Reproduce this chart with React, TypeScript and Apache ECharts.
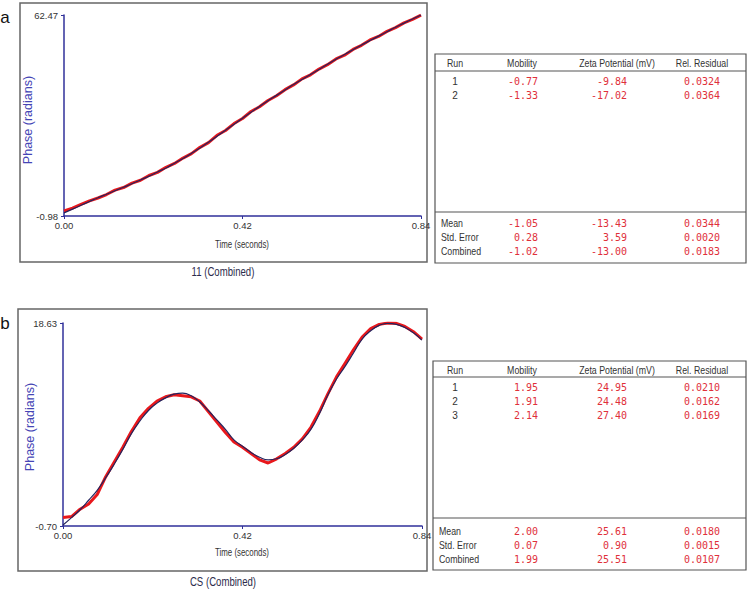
import React, { useEffect, useRef } from "react";
import * as echarts from "echarts";

// ---------- data ----------
const time = [0, 0.02, 0.04, 0.06, 0.08, 0.1, 0.12, 0.14, 0.16, 0.18, 0.2, 0.22, 0.24, 0.26, 0.28, 0.3, 0.32, 0.34, 0.36, 0.38, 0.4, 0.42, 0.44, 0.46, 0.48, 0.5, 0.52, 0.54, 0.56, 0.58, 0.6, 0.62, 0.64, 0.66, 0.68, 0.7, 0.72, 0.74, 0.76, 0.78, 0.8, 0.82, 0.84];

const fitA = [0.0, 1.2, 2.4, 3.6, 4.8, 5.9, 7.0, 8.1, 9.2, 10.4, 11.6, 12.9, 14.2, 15.7, 17.2, 18.8, 20.5, 22.3, 24.2, 26.1, 28.0, 29.9, 31.8, 33.6, 35.4, 37.1, 38.8, 40.5, 42.1, 43.7, 45.3, 46.9, 48.5, 50.0, 51.5, 53.0, 54.4, 55.8, 57.2, 58.6, 59.9, 61.2, 62.47];
const phaseA = [0.6, 1.5, 2.7, 3.8, 4.7, 5.8, 7.2, 8.0, 9.4, 10.3, 11.8, 12.8, 14.4, 15.6, 17.3, 18.7, 20.7, 22.2, 24.5, 26.0, 28.2, 29.8, 32.0, 33.5, 35.5, 37.0, 38.9, 40.4, 42.3, 43.6, 45.4, 46.8, 48.6, 49.8, 51.6, 52.9, 54.6, 55.7, 57.3, 58.5, 60.0, 61.1, 62.4];

const fitB = [-0.6, 0.1, 0.85, 1.75, 2.7, 3.9, 5.2, 6.6, 8.1, 9.3, 10.3, 11.0, 11.5, 11.85, 11.95, 11.7, 11.1, 10.3, 9.4, 8.5, 7.5, 6.9, 6.3, 5.85, 5.6, 5.7, 6.1, 6.7, 7.5, 8.5, 10.0, 11.8, 13.3, 14.5, 15.8, 17.1, 17.9, 18.4, 18.6, 18.5, 18.2, 17.7, 17.0];
const phaseB = [0.1, 0.2, 0.9, 1.4, 2.3, 4.0, 5.4, 6.8, 8.3, 9.6, 10.5, 11.2, 11.6, 11.8, 11.7, 11.6, 11.2, 10.2, 9.2, 8.2, 7.3, 6.8, 6.2, 5.6, 5.3, 5.7, 6.2, 6.8, 7.6, 8.7, 10.2, 11.9, 13.5, 14.8, 16.1, 17.3, 18.1, 18.5, 18.62, 18.6, 18.3, 17.8, 17.1];

const xTicks = [0, 0.42, 0.84];
const yTicksA = [-0.98, 62.47];
const yTicksB = [-0.7, 18.63];

const headers = ["Run", "Mobility", "Zeta Potential (mV)", "Rel. Residual"];
const summaryLabels = ["Mean", "Std. Error", "Combined"];

const runsA = ["1", "2"];
const mobilityA = ["-0.77", "-1.33"];
const zetaA = ["-9.84", "-17.02"];
const residualA = ["0.0324", "0.0364"];
const sumMobilityA = ["-1.05", "0.28", "-1.02"];
const sumZetaA = ["-13.43", "3.59", "-13.00"];
const sumResidualA = ["0.0344", "0.0020", "0.0183"];

const runsB = ["1", "2", "3"];
const mobilityB = ["1.95", "1.91", "2.14"];
const zetaB = ["24.95", "24.48", "27.40"];
const residualB = ["0.0210", "0.0162", "0.0169"];
const sumMobilityB = ["2.00", "0.07", "1.99"];
const sumZetaB = ["25.61", "0.90", "25.51"];
const sumResidualB = ["0.0180", "0.0015", "0.0107"];

// ---------- styles ----------
const navy = "#30309a";
const fitColor = "#24245e";
const red = "#e8181c";
const sans = '"Liberation Sans", Arial, sans-serif';
const mono = '"DejaVu Sans Mono", monospace';
const valRed = "#e0303a";

function makeTable(box: { l: number; t: number; r: number; b: number; head: number; foot: number; headY: number; rowY0: number; sumY: number[] },
  runs: string[], mob: string[], zeta: string[], res: string[], sMob: string[], sZeta: string[], sRes: string[]) {
  const els: any[] = [];
  els.push({ type: "rect", shape: { x: box.l, y: box.t, width: box.r - box.l, height: box.b - box.t }, style: { fill: "#fff", stroke: "#555", lineWidth: 1.2 }, z: 10 });
  els.push({ type: "line", shape: { x1: box.l, y1: box.head, x2: box.r, y2: box.head }, style: { stroke: "#555", lineWidth: 1.2 }, z: 11 });
  els.push({ type: "line", shape: { x1: box.l, y1: box.foot, x2: box.r, y2: box.foot }, style: { stroke: "#555", lineWidth: 1.2 }, z: 11 });
  const hx = [455, 522, 617, 702];
  headers.forEach((h, i) => {
    els.push({ type: "text", x: hx[i], y: box.headY, scaleX: 0.88, z: 12, style: { text: h, align: "center", verticalAlign: "middle", font: `10px ${sans}`, fill: "#333" } });
  });
  const cx = [538, 627, 720];
  runs.forEach((r, i) => {
    const y = box.rowY0 + i * 14;
    els.push({ type: "text", x: 455, y, z: 12, style: { text: r, align: "center", verticalAlign: "middle", font: `10px ${sans}`, fill: "#333" } });
    [mob[i], zeta[i], res[i]].forEach((v, j) => {
      els.push({ type: "text", x: cx[j], y, z: 12, style: { text: v, align: "right", verticalAlign: "middle", font: `10px ${mono}`, fill: valRed } });
    });
  });
  summaryLabels.forEach((s, i) => {
    const y = box.sumY[i];
    els.push({ type: "text", x: box.l + 6, y, scaleX: 0.88, z: 12, style: { text: s, align: "left", verticalAlign: "middle", font: `10px ${sans}`, fill: "#333" } });
    [sMob[i], sZeta[i], sRes[i]].forEach((v, j) => {
      els.push({ type: "text", x: cx[j], y, z: 12, style: { text: v, align: "right", verticalAlign: "middle", font: `10px ${mono}`, fill: valRed } });
    });
  });
  return els;
}

function xAxisCfg(gridIndex: number) {
  return {
    type: "value", gridIndex, min: 0, max: 0.84,
    axisLine: { show: true, onZero: false, lineStyle: { color: navy, width: 1.5 } },
    axisTick: { show: true, customValues: xTicks, length: 3, lineStyle: { color: navy } },
    axisLabel: { customValues: xTicks, formatter: (v: number) => v.toFixed(2), color: "#333", fontSize: 9.5, fontFamily: sans, margin: 4 },
    splitLine: { show: false },
  };
}

function yAxisCfg(gridIndex: number, ticks: number[]) {
  return {
    type: "value", gridIndex, min: ticks[0], max: ticks[1],
    axisLine: { show: true, onZero: false, lineStyle: { color: navy, width: 1.5 } },
    axisTick: { show: true, customValues: ticks, length: 3, lineStyle: { color: navy } },
    axisLabel: { customValues: ticks, formatter: (v: number) => v.toFixed(2), color: "#333", fontSize: 9.5, fontFamily: sans, margin: 6 },
    splitLine: { show: false },
  };
}

export default function App() {
  const ref = useRef<HTMLDivElement>(null);
  useEffect(() => {
    if (!ref.current) return;
    const chart = echarts.init(ref.current, undefined, { renderer: "svg" });
    const graphics: any[] = [
      { type: "rect", shape: { x: 20, y: 3, width: 407, height: 259 }, style: { fill: "none", stroke: "#666", lineWidth: 1.5 } },
      { type: "rect", shape: { x: 18, y: 309, width: 409, height: 262 }, style: { fill: "none", stroke: "#666", lineWidth: 1.5 } },
      { type: "text", x: 5, y: 17, style: { text: "a", align: "center", verticalAlign: "middle", font: `17px ${sans}`, fill: "#111" } },
      { type: "text", x: 5, y: 323, style: { text: "b", align: "center", verticalAlign: "middle", font: `17px ${sans}`, fill: "#111" } },
      { type: "text", x: 28, y: 120, rotation: Math.PI / 2, style: { text: "Phase (radians)", align: "center", verticalAlign: "middle", font: `12.5px ${sans}`, fill: "#4545b5" } },
      { type: "text", x: 30, y: 427, rotation: Math.PI / 2, style: { text: "Phase (radians)", align: "center", verticalAlign: "middle", font: `12.5px ${sans}`, fill: "#4545b5" } },
      { type: "text", x: 242, y: 245, scaleX: 0.75, style: { text: "Time (seconds)", align: "center", verticalAlign: "middle", font: `10.5px ${sans}`, fill: "#333" } },
      { type: "text", x: 242, y: 553, scaleX: 0.75, style: { text: "Time (seconds)", align: "center", verticalAlign: "middle", font: `10.5px ${sans}`, fill: "#333" } },
      { type: "text", x: 223, y: 272, scaleX: 0.8, style: { text: "11 (Combined)", align: "center", verticalAlign: "middle", font: `12px ${sans}`, fill: "#2c2c4c" } },
      { type: "text", x: 223, y: 582, scaleX: 0.8, style: { text: "CS (Combined)", align: "center", verticalAlign: "middle", font: `12px ${sans}`, fill: "#2c2c4c" } },
      ...makeTable({ l: 435, t: 54, r: 746, b: 263, head: 71, foot: 212, headY: 63, rowY0: 81, sumY: [223, 237, 251] },
        runsA, mobilityA, zetaA, residualA, sumMobilityA, sumZetaA, sumResidualA),
      ...makeTable({ l: 433, t: 361, r: 746, b: 570, head: 377, foot: 518, headY: 370, rowY0: 387, sumY: [531, 545, 559] },
        runsB, mobilityB, zetaB, residualB, sumMobilityB, sumZetaB, sumResidualB),
    ];
    chart.setOption({
      animation: false,
      backgroundColor: "#fff",
      grid: [
        { left: 64, top: 15, width: 357, height: 201 },
        { left: 63, top: 323, width: 359, height: 203 },
      ],
      xAxis: [xAxisCfg(0), xAxisCfg(1)],
      yAxis: [yAxisCfg(0, yTicksA), yAxisCfg(1, yTicksB)],
      series: [
        { type: "line", xAxisIndex: 0, yAxisIndex: 0, data: time.map((t, i) => [t, phaseA[i]]), showSymbol: false, lineStyle: { color: red, width: 3 }, z: 2 },
        { type: "line", xAxisIndex: 0, yAxisIndex: 0, data: time.map((t, i) => [t, fitA[i]]), showSymbol: false, smooth: true, lineStyle: { color: fitColor, width: 1.2 }, z: 3 },
        { type: "line", xAxisIndex: 1, yAxisIndex: 1, data: time.map((t, i) => [t, phaseB[i]]), showSymbol: false, lineStyle: { color: red, width: 3 }, z: 2 },
        { type: "line", xAxisIndex: 1, yAxisIndex: 1, data: time.map((t, i) => [t, fitB[i]]), showSymbol: false, smooth: true, lineStyle: { color: fitColor, width: 1.2 }, z: 3 },
      ],
      graphic: graphics,
    });
    return () => chart.dispose();
  }, []);
  return <div ref={ref} style={{ position: "fixed", left: 0, top: 0, width: 750, height: 596 }} />;
}
